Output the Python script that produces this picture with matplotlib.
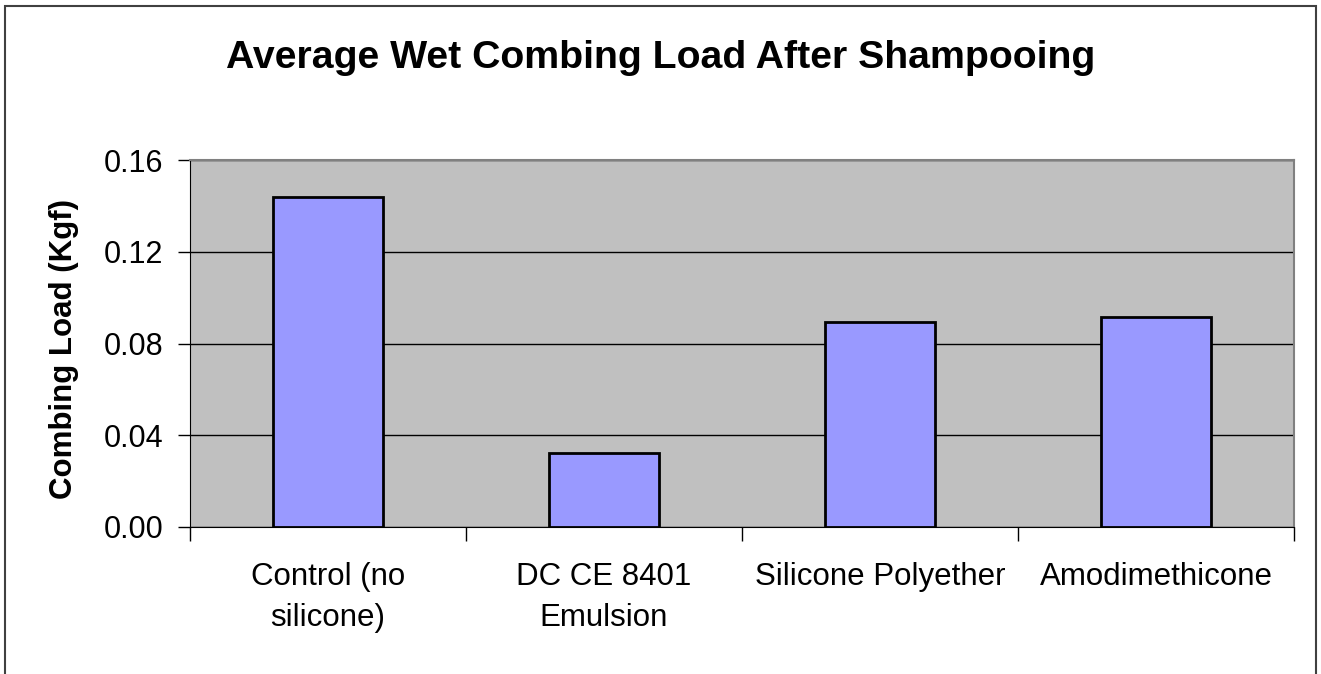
import matplotlib.pyplot as plt
from matplotlib.patches import Rectangle

# Wet combing data
categories = ['Control (no\nsilicone)', 'DC CE 8401\nEmulsion', 'Silicone Polyether', 'Amodimethicone']
combing_load = [0.144, 0.0324, 0.0895, 0.0917]
yticks = [0.00, 0.04, 0.08, 0.12, 0.16]

plt.rcParams['font.family'] = ['Liberation Sans', 'DejaVu Sans']

W, H = 1321, 674
fig = plt.figure(figsize=(W / 100, H / 100), dpi=100)

# outer chart border (bottom edge runs off the image)
fig.patches.append(Rectangle((5 / W, -0.05), (1316 - 5) / W, 1 - 6 / H + 0.05,
                             transform=fig.transFigure, fill=False,
                             edgecolor='#404040', linewidth=1.5))

left, right, top, bottom = 190, 1294, 160, 527
ax = fig.add_axes([left / W, 1 - bottom / H, (right - left) / W, (bottom - top) / H])
ax.set_facecolor('#C0C0C0')

x = range(len(categories))
ax.bar(x, combing_load, width=0.4, color='#9999FF', edgecolor='black', linewidth=2, zorder=3)

ax.set_xlim(-0.5, len(categories) - 0.5)
ax.set_ylim(0, 0.16)
ax.set_yticks(yticks)
ax.set_yticklabels([f'{v:.2f}' for v in yticks], fontsize=22)
ax.yaxis.grid(True, color='black', linewidth=1)
ax.set_axisbelow(True)
ax.tick_params(axis='y', length=9, width=1, pad=10)

# category labels centred, ticks at category boundaries
ax.set_xticks([i - 0.5 for i in range(len(categories) + 1)])
ax.set_xticklabels([])
ax.set_xticks(list(x), minor=True)
ax.set_xticklabels(categories, minor=True, fontsize=22.5, linespacing=1.5)
ax.tick_params(axis='x', which='major', length=10, width=1)
ax.tick_params(axis='x', which='minor', length=0, pad=25)

ax.spines['left'].set_color('black')
ax.spines['bottom'].set_color('black')
ax.spines['top'].set_color('#808080')
ax.spines['right'].set_color('#808080')
ax.spines['top'].set_linewidth(1.5)
ax.spines['right'].set_linewidth(1.5)

ax.set_ylabel('Combing Load (Kgf)', fontsize=22.5, fontweight='bold')
ax.yaxis.set_label_coords((79 - left) / (right - left), 0.485)
fig.text(661 / W, 1 - 58 / H, 'Average Wet Combing Load After Shampooing',
         ha='center', va='center', fontsize=28.3, fontweight='bold')

fig.savefig('out.png', dpi=100, facecolor='white')
